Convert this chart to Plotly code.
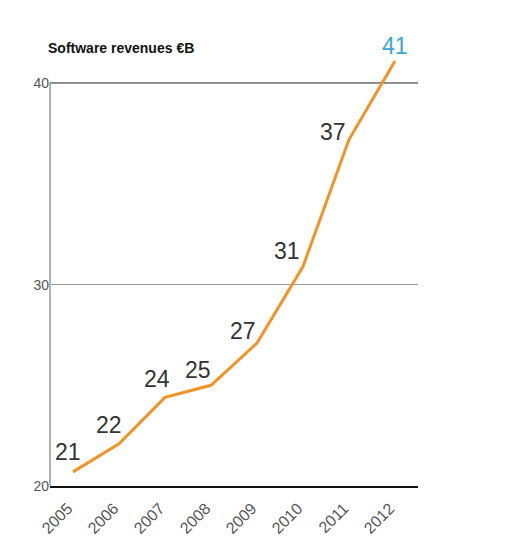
import plotly.graph_objects as go

years = ["2005", "2006", "2007", "2008", "2009", "2010", "2011", "2012"]
revenues = [20.7, 22.1, 24.4, 25.0, 27.1, 30.9, 37.2, 41.1]
labels = ["21", "22", "24", "25", "27", "31", "37", "41"]
y_ticks = [20, 30, 40]

# label placement relative to each point (pixels)
label_dx = [-5, -10, -8, -13, -14, -16, -16, 0]
label_dy = [20, 19, 18, 15, 12, 15, 8, 15]

fig = go.Figure()
fig.add_trace(go.Scatter(
    x=years,
    y=revenues,
    mode="lines",
    line=dict(color="#f39325", width=3),
    hoverinfo="skip",
))

# category axis -> annotations use the category index
for i in range(len(labels)):
    fig.add_annotation(
        x=i, y=revenues[i], text=labels[i], showarrow=False,
        xanchor="center", yanchor="middle",
        xshift=label_dx[i], yshift=label_dy[i],
        font=dict(size=23, family="Liberation Sans",
                  color="#3aa6d6" if i == len(labels) - 1 else "#333333"),
    )

# black line at 40, grey left axis line
fig.add_shape(type="line", xref="paper", yref="y", x0=0, x1=1, y0=40, y1=40,
              line=dict(color="#111111", width=1.2), layer="between")
fig.add_shape(type="line", xref="paper", yref="y", x0=0, x1=0, y0=20, y1=40,
              line=dict(color="#999999", width=1.5), layer="between")

fig.add_annotation(
    text="<b>Software revenues €B</b>",
    xref="paper", yref="paper", x=0, y=1, xanchor="left", yanchor="middle",
    xshift=-4, yshift=5, showarrow=False,
    font=dict(size=14, color="#111111", family="Liberation Sans"),
)

fig.update_xaxes(
    type="category",
    range=[-0.5, 7.5],
    tickangle=-45,
    showgrid=False,
    showline=True,
    linecolor="#111111",
    linewidth=1.5,
    ticks="",
    ticklabelstandoff=5,
    ticklabelshift=-5,
    tickfont=dict(size=16, color="#555555", family="Liberation Sans"),
)
fig.update_yaxes(
    range=[20, 41.5],
    tickvals=y_ticks,
    showgrid=True,
    gridcolor="#999999",
    gridwidth=1.2,
    zeroline=False,
    showline=False,
    ticks="",
    tickfont=dict(size=14, color="#555555", family="Liberation Sans"),
)

fig.update_layout(
    width=519,
    height=558,
    margin=dict(l=42, r=109, t=45, b=80),
    plot_bgcolor="white",
    paper_bgcolor="white",
    showlegend=False,
)

fig.write_html("out.html")
